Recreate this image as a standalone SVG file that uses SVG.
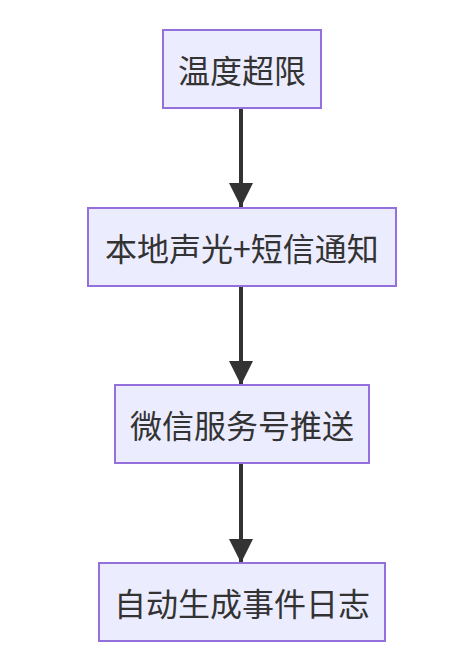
<svg xmlns="http://www.w3.org/2000/svg" width="476" height="662" viewBox="0 0 476 662">
<style>
.node rect{fill:#ECECFF;stroke:#9370DB;stroke-width:2}
.node text{font-family:"Noto Sans CJK SC","Liberation Sans",sans-serif;font-size:32px;fill:#333;text-anchor:middle;dominant-baseline:central}
.edge{stroke:#333;stroke-width:4;fill:none}
</style>
<defs>
<marker id="ah" markerUnits="userSpaceOnUse" viewBox="0 0 24 24" refX="24" refY="12" markerWidth="24" markerHeight="24" orient="auto">
<path d="M0,0 L24,12 L0,24 z" fill="#333"/>
</marker>
</defs>
<rect width="476" height="662" fill="#fff"/>
<g id="edges">
<line class="edge" x1="241" y1="108" x2="241" y2="207" marker-end="url(#ah)"/>
<line class="edge" x1="241" y1="286" x2="241" y2="385" marker-end="url(#ah)"/>
<line class="edge" x1="241" y1="463" x2="241" y2="563" marker-end="url(#ah)"/>
</g>
<g id="n1" class="node"><rect x="163" y="30" width="158" height="78"/><text x="242" y="69">温度超限</text></g>
<g id="n2" class="node"><rect x="88" y="208" width="308" height="78"/><text x="242" y="247">本地声光+短信通知</text></g>
<g id="n3" class="node"><rect x="115" y="385" width="254" height="78"/><text x="242" y="424">微信服务号推送</text></g>
<g id="n4" class="node"><rect x="99" y="563" width="286" height="78"/><text x="242" y="602">自动生成事件日志</text></g>
</svg>
